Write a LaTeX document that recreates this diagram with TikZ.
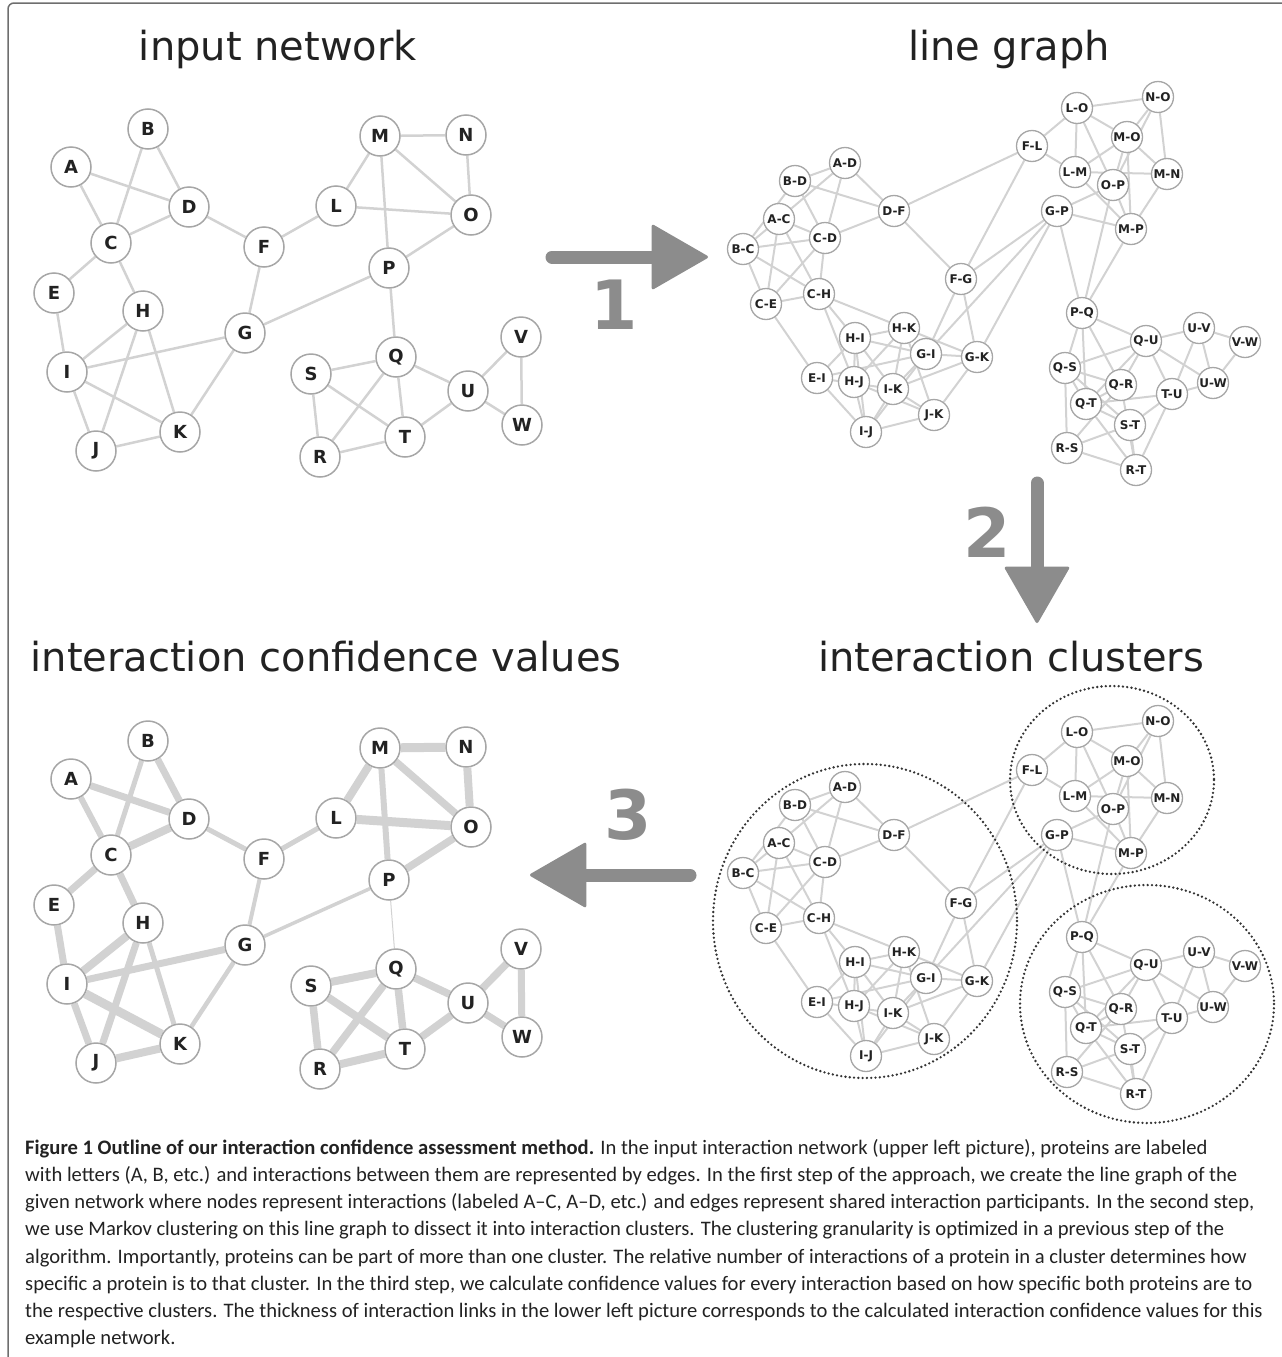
\documentclass[tikz,border=0pt]{standalone}
\usepackage{fontspec}
\setmainfont{DejaVu Sans}
\newfontfamily\capfont{Carlito}
\usepackage{tikz}
\usetikzlibrary{arrows.meta}

\definecolor{edgegray}{HTML}{D2D2D2}
\definecolor{ringgray}{HTML}{A6A6A6}
\definecolor{stepgray}{HTML}{8C8C8C}
\definecolor{textdark}{HTML}{222222}
\definecolor{dotdark}{HTML}{333333}
\definecolor{framegray}{HTML}{6E6E6E}

\pgfdeclarelayer{background}
\pgfsetlayers{background,main}

\tikzset{
	prot/.style={circle, draw=ringgray, fill=white, line width=1.5pt, minimum size=40pt, inner sep=0pt, font=\fontsize{18}{18}\selectfont\bfseries, text=textdark},
	inter/.style={circle, draw=ringgray, fill=white, line width=1.3pt, minimum size=31pt, inner sep=0pt, font=\fontsize{12}{12}\selectfont\bfseries, text=textdark},
	protedge/.style={draw=edgegray, line width=2.5pt},
	interedge/.style={draw=edgegray, line width=2pt},
	title/.style={anchor=base, font=\fontsize{40}{40}\selectfont, text=textdark},
	steparrow/.style={draw=stepgray, fill=stepgray, line width=13pt, line cap=round, -{Triangle[length=58pt, width=66pt, line width=3pt, round]}},
	steplabel/.style={font=\fontsize{68}{68}\selectfont\bfseries, text=stepgray},
	cluster/.style={draw=dotdark, line width=2.6pt, line cap=round, dash pattern=on 0pt off 4.3pt},
}

% proteins of the example network
\newcommand{\proteinnodes}{%
	\node[prot] (A) at (71,167) {A};
	\node[prot] (B) at (148,129) {B};
	\node[prot] (C) at (111,243) {C};
	\node[prot] (D) at (189,207) {D};
	\node[prot] (E) at (54,293) {E};
	\node[prot] (F) at (264,247) {F};
	\node[prot] (G) at (245,333) {G};
	\node[prot] (H) at (143,311) {H};
	\node[prot] (I) at (67,372) {I};
	\node[prot] (J) at (96,451) {J};
	\node[prot] (K) at (180,432) {K};
	\node[prot] (L) at (336,206) {L};
	\node[prot] (M) at (380,136) {M};
	\node[prot] (N) at (466,135) {N};
	\node[prot] (O) at (471,215) {O};
	\node[prot] (P) at (389,268) {P};
	\node[prot] (Q) at (396,357) {Q};
	\node[prot] (R) at (320,457) {R};
	\node[prot] (S) at (311,374) {S};
	\node[prot] (T) at (405,437) {T};
	\node[prot] (U) at (468,391) {U};
	\node[prot] (V) at (521,337) {V};
	\node[prot] (W) at (522,425) {W};
}

% interactions: first/second protein/confidence width
\def\proteinlinks{A/C/6, A/D/7, B/C/5, B/D/7, C/D/8, C/E/7, C/H/7, D/F/5,
	E/I/7, F/L/5, F/G/4, G/I/7, G/K/4.5, G/P/3.5, H/I/8, H/J/7, H/K/5,
	I/J/7, I/K/9, J/K/8, L/M/8, L/O/9, M/N/9, M/O/7.5, M/P/6, N/O/8,
	O/P/7.5, P/Q/1, Q/S/8, Q/R/7.5, Q/T/7.5, Q/U/7.5, R/S/7.5, S/T/8,
	R/T/8, T/U/7.5, U/V/7.5, U/W/7, V/W/7}

% line graph nodes
\newcommand{\interactionnodes}{%
	\node[inter] (AC) at (779,219) {A-C};
	\node[inter] (AD) at (845,163) {A-D};
	\node[inter] (BC) at (743,249) {B-C};
	\node[inter] (BD) at (795,181) {B-D};
	\node[inter] (CD) at (825,238) {C-D};
	\node[inter] (CE) at (766,304) {C-E};
	\node[inter] (CH) at (819,294) {C-H};
	\node[inter] (DF) at (894,211) {D-F};
	\node[inter] (EI) at (817,378) {E-I};
	\node[inter] (FL) at (1032,146) {F-L};
	\node[inter] (FG) at (961,279) {F-G};
	\node[inter] (GI) at (926,354) {G-I};
	\node[inter] (GK) at (977,357) {G-K};
	\node[inter] (GP) at (1057,211) {G-P};
	\node[inter] (HI) at (855,338) {H-I};
	\node[inter] (HJ) at (854,382) {H-J};
	\node[inter] (HK) at (904,328) {H-K};
	\node[inter] (IJ) at (866,432) {I-J};
	\node[inter] (IK) at (893,389) {I-K};
	\node[inter] (JK) at (934,415) {J-K};
	\node[inter] (LM) at (1075,172) {L-M};
	\node[inter] (LO) at (1077,108) {L-O};
	\node[inter] (MN) at (1167,174) {M-N};
	\node[inter] (MO) at (1127,137) {M-O};
	\node[inter] (MP) at (1131,229) {M-P};
	\node[inter] (NO) at (1158,97) {N-O};
	\node[inter] (OP) at (1113,185) {O-P};
	\node[inter] (PQ) at (1082,313) {P-Q};
	\node[inter] (QR) at (1121,385) {Q-R};
	\node[inter] (QS) at (1065,368) {Q-S};
	\node[inter] (QT) at (1086,404) {Q-T};
	\node[inter] (QU) at (1146,341) {Q-U};
	\node[inter] (RS) at (1067,448) {R-S};
	\node[inter] (RT) at (1136,470) {R-T};
	\node[inter] (ST) at (1130,425) {S-T};
	\node[inter] (TU) at (1172,394) {T-U};
	\node[inter] (UV) at (1199,328) {U-V};
	\node[inter] (UW) at (1213,383) {U-W};
	\node[inter] (VW) at (1245,342) {V-W};
}

% interactions sharing a protein (one group per protein A..W)
\def\sharedprotein{{AC,AD},{BC,BD},{AC,BC,CD,CE,CH},{AD,BD,CD,DF},{CE,EI},
	{DF,FL,FG},{FG,GI,GK,GP},{CH,HI,HJ,HK},{EI,GI,HI,IJ,IK},{HJ,IJ,JK},
	{GK,HK,IK,JK},{FL,LM,LO},{LM,MN,MO,MP},{MN,NO},{LO,MO,NO,OP},
	{GP,MP,OP,PQ},{PQ,QS,QR,QT,QU},{QR,RS,RT},{QS,RS,ST},{QT,ST,RT,TU},
	{QU,TU,UV,UW},{UV,VW},{UW,VW}}

\newcommand{\interactionlinks}{%
	\foreach \grp in \sharedprotein {
		\foreach \p [count=\i] in \grp {
			\foreach \q [count=\j] in \grp {
				\ifnum\i<\j \draw[interedge] (\p) -- (\q); \fi
			}
		}
	}
}

\begin{document}
\begin{tikzpicture}[x=1pt, y=-1pt]
	\useasboundingbox (0,0) rectangle (1282,1357);
	\draw[framegray, line width=1.5pt, rounded corners=6pt] (8,1370) -- (8,3) -- (1300,3);

	% Titles
	\node[title] (tInput) at (278,60) {input network};
	\node[title] (tLine) at (1009,60) {line graph};
	\node[title] (tValues) at (326,671) {interaction confidence values};
	\node[title] (tClusters) at (1011,671) {interaction clusters};

	% Input network
	\begin{scope}[name prefix=in-]
		\proteinnodes
		\begin{pgfonlayer}{background}
			\foreach \a/\b/\w in \proteinlinks {\draw[protedge] (\a) -- (\b);}
		\end{pgfonlayer}
	\end{scope}

	% Line graph
	\begin{scope}[name prefix=lg-]
		\interactionnodes
		\begin{pgfonlayer}{background}
			\interactionlinks
		\end{pgfonlayer}
	\end{scope}

	% Interaction clusters
	\begin{scope}[shift={(0,624)}, name prefix=cl-]
		\interactionnodes
		\begin{pgfonlayer}{background}
			\interactionlinks
		\end{pgfonlayer}
	\end{scope}
	\draw[cluster] (865,921) ellipse [x radius=152, y radius=157];
	\draw[cluster] (1112,780) ellipse [x radius=102, y radius=94];
	\draw[cluster] (1147,1004) ellipse [x radius=127, y radius=119];

	% Interaction confidence values
	\begin{scope}[shift={(0,612)}, name prefix=cv-]
		\proteinnodes
		\begin{pgfonlayer}{background}
			\foreach \a/\b/\w in \proteinlinks {\draw[protedge, line width=\w pt] (\a) -- (\b);}
		\end{pgfonlayer}
	\end{scope}

	% Steps
	\coordinate (s1) at (552,257);
	\coordinate (e1) at (708,257);
	\coordinate (s2) at (1037,483);
	\coordinate (e2) at (1037,623);
	\coordinate (s3) at (690,875);
	\coordinate (e3) at (530,875);
	\draw[steparrow] (s1) -- (e1);
	\draw[steparrow] (s2) -- (e2);
	\draw[steparrow] (s3) -- (e3);
	\node[steplabel] (n1) at (614,305) {1};
	\node[steplabel] (n2) at (987,532) {2};
	\node[steplabel] (n3) at (628,815) {3};

	% Caption
	\node[anchor=north west, align=left, inner sep=0pt, text=textdark,
		font=\capfont\fontsize{20.6}{27.2}\selectfont] (caption) at (25,1139)
		{\textbf{Figure 1 Outline of our interaction confidence assessment method.} In the input interaction network (upper left picture), proteins are labeled\\
		with letters (A, B, etc.) and interactions between them are represented by edges. In the first step of the approach, we create the line graph of the\\
		given network where nodes represent interactions (labeled A–C, A–D, etc.) and edges represent shared interaction participants. In the second step,\\
		we use Markov clustering on this line graph to dissect it into interaction clusters. The clustering granularity is optimized in a previous step of the\\
		algorithm. Importantly, proteins can be part of more than one cluster. The relative number of interactions of a protein in a cluster determines how\\
		specific a protein is to that cluster. In the third step, we calculate confidence values for every interaction based on how specific both proteins are to\\
		the respective clusters. The thickness of interaction links in the lower left picture corresponds to the calculated interaction confidence values for this\\
		example network.};
\end{tikzpicture}
\end{document}
